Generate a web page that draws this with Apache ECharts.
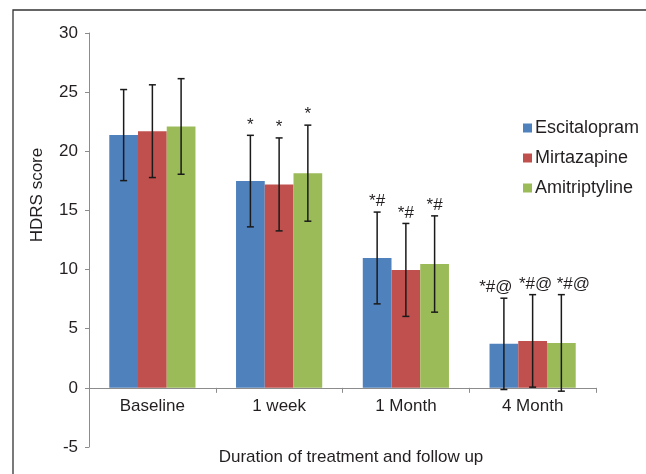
<!DOCTYPE html>
<html>
<head>
<meta charset="utf-8">
<script src="https://cdn.jsdelivr.net/npm/echarts@6/dist/echarts.min.js"></script>
<style>
  html, body { margin: 0; padding: 0; background: #fff; }
  #chart { width: 646px; height: 474px; }
</style>
</head>
<body>
<div id="chart"></div>
<script>
var periods = ['Baseline', '1 week', '1 Month', '4 Month'];
var drugs = ['Escitalopram', 'Mirtazapine', 'Amitriptyline'];
var escMean = [21.37, 17.48, 10.98, 3.72];
var escSd = [3.85, 3.87, 3.88, 3.86];
var mirMean = [21.7, 17.2, 9.97, 3.97];
var mirSd = [3.92, 3.93, 3.93, 3.91];
var amiMean = [22.1, 18.15, 10.47, 3.8];
var amiSd = [4.04, 4.06, 4.07, 4.08];
var notes = ['', '*', '*#', '*#@'];

var colors = ['#4F81BD', '#C0504D', '#9BBB59'];
var font = 'Liberation Sans, Arial, sans-serif';
var catGap = 0.32;
var yMin = -5, yMax = 30, gridTop = 33, gridH = 414;

function errRender(k) {
	return function(params, api) {
		var idx = api.value(0), mean = api.value(1), sd = api.value(2);
		var band = api.size([1, 0])[0];
		var bw = band * (1 - catGap) / 3;
		var x = api.coord([idx, mean])[0] + (k - 1) * bw;
		var top = api.coord([idx, mean + sd])[1];
		var bot = api.coord([idx, mean - sd])[1];
		var ls = { stroke: '#1a1a1a', lineWidth: 1.5 };
		var kids = [
			{ type: 'line', shape: { x1: x, y1: top, x2: x, y2: bot }, style: ls },
			{ type: 'line', shape: { x1: x - 3.5, y1: top, x2: x + 3.5, y2: top }, style: ls },
			{ type: 'line', shape: { x1: x - 3.5, y1: bot, x2: x + 3.5, y2: bot }, style: ls }
		];
		var note = notes[idx];
		if (note) {
			var shift = note.length > 2 ? [-8, 3, 12][k] : 0;
			kids.push({
				type: 'text',
				style: {
					text: note, x: x + shift, y: top - 2,
					align: 'center', verticalAlign: 'bottom',
					fill: '#231f20', fontSize: 17, fontFamily: font
				}
			});
		}
		return { type: 'group', children: kids };
	};
}

function errData(means, sds) {
	return means.map(function(m, i) { return [i, m, sds[i]]; });
}

var means = [escMean, mirMean, amiMean];
var sds = [escSd, mirSd, amiSd];
var series = [];
drugs.forEach(function(d, k) {
	series.push({
		name: d,
		type: 'bar',
		data: means[k],
		barGap: '0%',
		barCategoryGap: (catGap * 100) + '%',
		itemStyle: { color: colors[k] },
		z: 2
	});
});
drugs.forEach(function(d, k) {
	series.push({
		name: d + ' SD',
		type: 'custom',
		renderItem: errRender(k),
		data: errData(means[k], sds[k]),
		encode: { x: 0, y: 1 },
		silent: true,
		clip: false,
		z: 5
	});
});

// x axis sits on the zero line, labels go with it
var zeroOffset = -gridH * (0 - yMin) / (yMax - yMin);

var chart = echarts.init(document.getElementById('chart'));
chart.setOption({
	animation: false,
	textStyle: { fontFamily: font },
	grid: { left: 89, top: gridTop, width: 507, height: gridH, containLabel: false },
	legend: {
		data: drugs,
		orient: 'vertical',
		left: 518,
		top: 114,
		itemWidth: 9,
		itemHeight: 9,
		itemGap: 12,
		icon: 'rect',
		textStyle: { fontSize: 18, color: '#231f20', fontFamily: font, padding: [0, 0, 0, -2] }
	},
	xAxis: {
		type: 'category',
		data: periods,
		position: 'bottom',
		offset: zeroOffset,
		axisLine: { onZero: false, lineStyle: { color: '#8c8c8c', width: 1 } },
		axisTick: { show: true, length: 5, lineStyle: { color: '#8c8c8c' } },
		axisLabel: { fontSize: 17, color: '#231f20', margin: 10, fontFamily: font }
	},
	yAxis: {
		type: 'value',
		min: yMin,
		max: yMax,
		interval: 5,
		splitLine: { show: false },
		axisLine: { show: true, lineStyle: { color: '#8c8c8c', width: 1 } },
		axisTick: { show: true, length: 4, lineStyle: { color: '#8c8c8c' } },
		axisLabel: { fontSize: 17, color: '#231f20', margin: 11, fontFamily: font }
	},
	graphic: [
		{
			type: 'rect',
			shape: { x: 13, y: 10, width: 700, height: 500 },
			style: { fill: 'none', stroke: '#333', lineWidth: 1.3 },
			silent: true
		},
		{
			type: 'text',
			x: 37, y: 195,
			rotation: Math.PI / 2,
			style: {
				text: 'HDRS score', align: 'center', verticalAlign: 'middle',
				fontSize: 17, fill: '#231f20', fontFamily: font
			}
		},
		{
			type: 'text',
			x: 351, y: 457,
			style: {
				text: 'Duration of treatment and follow up', align: 'center', verticalAlign: 'middle',
				fontSize: 17, fill: '#231f20', fontFamily: font
			}
		}
	],
	series: series
});
</script>
</body>
</html>
